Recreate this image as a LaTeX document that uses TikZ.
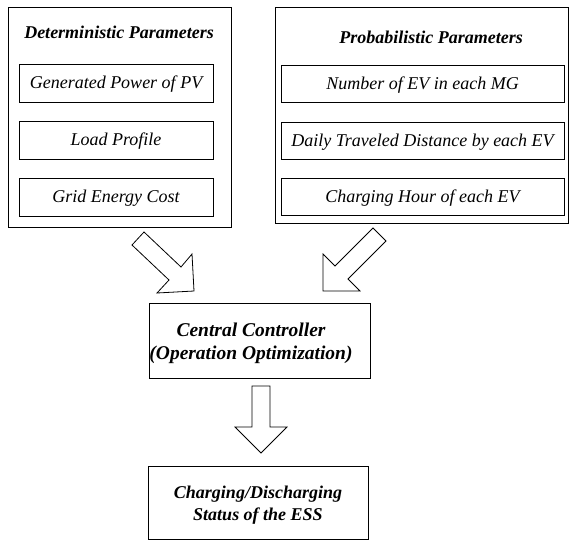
\documentclass[tikz,border=0pt]{standalone}
\usepackage{fontspec}
\setmainfont{Liberation Serif}
\begin{document}
\begin{tikzpicture}[x=1pt,y=-1pt,
  box/.style={draw=black,line width=0.8pt,inner sep=0pt,align=center},
  inbox/.style={box,font=\fontsize{18}{21}\selectfont\itshape,text depth=1pt},
  title/.style={inner sep=0pt,font=\fontsize{18}{21}\selectfont\bfseries\itshape},
  bigtext/.style={inner sep=0pt,align=center,font=\fontsize{19.5}{23}\selectfont\bfseries\itshape},
  endbox/.style={box,font=\fontsize{18}{22}\selectfont\bfseries\itshape},
  blockarrow/.style={draw=black,line width=0.8pt,line join=miter,fill=white}]
\useasboundingbox (0,0) rectangle (569,541);
% outer containers
\node[box,minimum width=223pt,minimum height=220pt] (detbox) at (119.5,117) {};
\node[box,minimum width=293pt,minimum height=216pt] (probbox) at (421.5,115) {};
\node[title] (dettitle) at (119,32) {Deterministic Parameters};
\node[title] (probtitle) at (431,37) {Probabilistic Parameters};
% deterministic items
\node[inbox,minimum width=194pt,minimum height=38pt] (pv) at (116,83) {Generated Power of PV};
\node[inbox,minimum width=194pt,minimum height=38pt] (load) at (116,140) {Load Profile};
\node[inbox,minimum width=194pt,minimum height=38pt] (cost) at (116,197) {Grid Energy Cost};
% probabilistic items
\node[inbox,minimum width=283pt,minimum height=37pt] (nev) at (422.5,83.5) {Number of EV in each MG};
\node[inbox,minimum width=283pt,minimum height=37pt] (dist) at (422.5,140.5) {Daily Traveled Distance by each EV};
\node[inbox,minimum width=283pt,minimum height=37pt] (hour) at (422.5,196.5) {Charging Hour of each EV};
% central controller
\node[box,minimum width=221pt,minimum height=75pt] (ctrl) at (259.5,340.5) {};
\node[bigtext] (ctrltext) at (251,343) {Central Controller\\(Operation Optimization)};
% output
\node[endbox,minimum width=220pt,minimum height=73pt] (ess) at (258,503) {};
\node[bigtext,font=\fontsize{18}{22}\selectfont\bfseries\itshape] (esstext) at (258,505) {Charging/Discharging\\Status of the ESS};
% block arrows
\draw[blockarrow] (132,245) -- (144,232) -- (181,267) -- (192,254) -- (194,291) -- (157,293) -- (169,280) -- cycle;
\draw[blockarrow] (373,228) -- (386,241) -- (348,279) -- (360,291) -- (323,291) -- (323,254) -- (335,266) -- cycle;
\draw[blockarrow] (252,386) -- (270,386) -- (270,427) -- (287,427) -- (261,453) -- (235,427) -- (252,427) -- cycle;
\end{tikzpicture}
\end{document}
